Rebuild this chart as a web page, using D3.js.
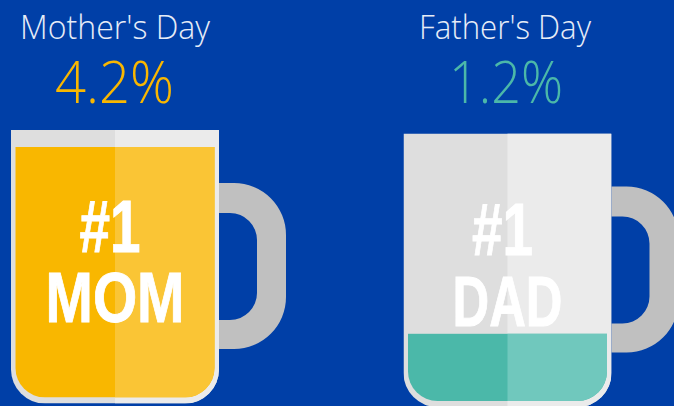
<!DOCTYPE html>
<html>
<head>
<meta charset="utf-8">
<script src="https://cdn.jsdelivr.net/npm/d3@7"></script>
<style>
  html, body { margin: 0; padding: 0; background: #003fa7; overflow: hidden; }
  svg { display: block; }
  .title { font-family: "Open Sans", sans-serif; font-weight: 300; fill: #e6ecf7; text-anchor: middle; }
  .share { font-family: "Open Sans", sans-serif; font-weight: 300; text-anchor: middle; }
  .slogan { font-family: "Liberation Sans Narrow", sans-serif; font-weight: 700; fill: #fff; stroke: #fff; stroke-width: 0.9; text-anchor: middle; }
</style>
</head>
<body>
<div id="chart"></div>
<script>
// Values
let holidays = ["Mother's Day", "Father's Day"];
let shares = [4.2, 1.2];
let shareLabels = ['4.2%', '1.2%'];
let sloganFirst = ['#1', '#1'];
let sloganSecond = ['MOM', 'DAD'];
let liquidLeft = ['#f9b700', '#4bb8a9'];
let liquidRight = ['#fac535', '#70c8bd'];

let width = 674;
let height = 406;

let mugW = 208;
let mugH = 273.5;
let wall = 4.5;
let rimH = 17;
let outerR = 34;

let svg = d3.select('#chart').append('svg')
    .attr('width', width)
    .attr('height', height);

// The two mugs sit almost level, the second a few pixels lower
let mugX = d3.scalePoint().domain(holidays).range([11, 403.5]);
let mugY = d3.scalePoint().domain(holidays).range([130, 133.5]);

// Liquid height inside a mug. The rounded base holds less, so the scale starts just above zero
let fillScale = d3.scaleLinear()
    .domain([0.1, 4.2])
    .range([0, mugH - rimH - wall - 1.5]);

// Box with square top corners and rounded bottom corners
function cupPath(x, y, w, h, r) {
  let p = d3.path();
  p.moveTo(x, y);
  p.lineTo(x + w, y);
  p.lineTo(x + w, y + h - r);
  p.arcTo(x + w, y + h, x + w - r, y + h, r);
  p.lineTo(x + r, y + h);
  p.arcTo(x, y + h, x, y + h - r, r);
  p.closePath();
  return p.toString();
}

// Handle: a rounded ring open on the mug side
function handlePath(x, y) {
  let top = y + 53, bottom = y + 219, reach = 67, r = 52;
  let inTop = y + 83, inBottom = y + 190, inReach = 38, inR = 27;
  let p = d3.path();
  p.moveTo(x, top);
  p.lineTo(x + reach - r, top);
  p.arcTo(x + reach, top, x + reach, top + r, r);
  p.lineTo(x + reach, bottom - r);
  p.arcTo(x + reach, bottom, x + reach - r, bottom, r);
  p.lineTo(x, bottom);
  p.lineTo(x, inBottom);
  p.lineTo(x + inReach - inR, inBottom);
  p.arcTo(x + inReach, inBottom, x + inReach, inBottom - inR, inR);
  p.lineTo(x + inReach, inTop + inR);
  p.arcTo(x + inReach, inTop, x + inReach - inR, inTop, inR);
  p.lineTo(x, inTop);
  p.closePath();
  return p.toString();
}

holidays.forEach(function(holiday, i) {
  let x = mugX(holiday);
  let y = mugY(holiday);
  let midX = x + mugW / 2;
  let g = svg.append('g');

  g.append('text').attr('class', 'title')
      .attr('x', i === 0 ? 115 : 505).attr('y', 39)
      .attr('font-size', 33)
      .attr('textLength', i === 0 ? 190 : 172).attr('lengthAdjust', 'spacingAndGlyphs')
      .text(holiday);

  g.append('text').attr('class', 'share')
      .attr('x', i === 0 ? 114.5 : 506).attr('y', 103)
      .attr('font-size', 59)
      .attr('textLength', i === 0 ? 119 : 114).attr('lengthAdjust', 'spacingAndGlyphs')
      .attr('fill', liquidLeft[i])
      .text(shareLabels[i]);

  g.append('path')
      .attr('d', handlePath(x + mugW, y))
      .attr('fill', '#c0c0c0');

  // Clip everything in the mug to its outline, and the liquid to the inner outline
  let outerId = 'outer' + i;
  let innerId = 'inner' + i;
  let innerBottom = y + mugH - wall - 1.5;
  svg.append('clipPath').attr('id', outerId).append('path')
      .attr('d', cupPath(x, y, mugW, mugH, outerR));
  svg.append('clipPath').attr('id', innerId).append('path')
      .attr('d', cupPath(x + wall, y + rimH, mugW - 2 * wall, mugH - rimH - wall - 1.5, outerR - wall));

  // The left half runs the full width underneath, so no seam shows at the split
  let glass = g.append('g').attr('clip-path', 'url(#' + outerId + ')');
  glass.append('rect').attr('x', x).attr('y', y).attr('width', mugW).attr('height', mugH).attr('fill', '#dedede');
  glass.append('rect').attr('x', midX).attr('y', y).attr('width', mugW / 2).attr('height', mugH).attr('fill', '#ebebeb');

  let level = innerBottom - fillScale(shares[i]);
  let liquid = g.append('g').attr('clip-path', 'url(#' + innerId + ')');
  liquid.append('rect').attr('x', x).attr('y', level).attr('width', mugW).attr('height', innerBottom - level).attr('fill', liquidLeft[i]);
  liquid.append('rect').attr('x', midX).attr('y', level).attr('width', mugW / 2).attr('height', innerBottom - level).attr('fill', liquidRight[i]);

  g.append('text').attr('class', 'slogan')
      .attr('x', midX - 5).attr('y', y + 121.5)
      .attr('font-size', 74)
      .attr('textLength', 61).attr('lengthAdjust', 'spacingAndGlyphs')
      .text(sloganFirst[i]);

  g.append('text').attr('class', 'slogan')
      .attr('x', midX).attr('y', y + 192)
      .attr('font-size', 71)
      .attr('textLength', i === 0 ? 139 : 110).attr('lengthAdjust', 'spacingAndGlyphs')
      .text(sloganSecond[i]);
});
</script>
</body>
</html>
